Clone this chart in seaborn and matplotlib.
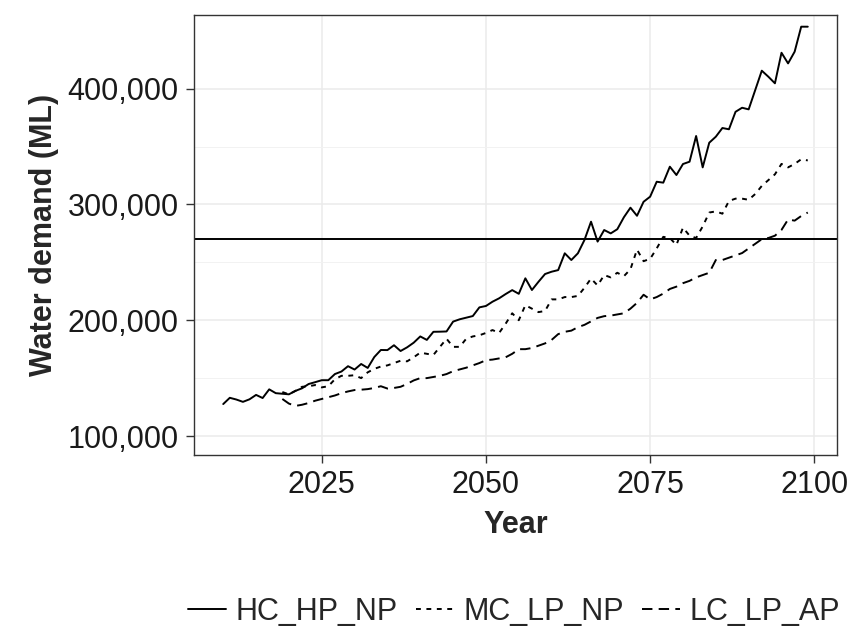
import numpy as np
import pandas as pd
import matplotlib
matplotlib.use("Agg")
import matplotlib.pyplot as plt
import seaborn as sns
from matplotlib.ticker import FuncFormatter

# ---- data (thousand ML) ----
years_hc = list(range(2010, 2100))
hc_hp_np = [127.6, 133, 131.5, 129.5, 131.7, 135.5, 132.8, 140.3, 137, 136.5,
            136, 139, 141.2, 144.9, 146.5, 148.2, 148.2, 153.5, 155.7, 160.3,
            157.4, 162.2, 158.8, 168.2, 174.3, 174.2, 178.4, 173.4, 176.6, 180.6,
            186, 183, 190, 190.1, 190.3, 198.8, 200.8, 202.2, 203.6, 211.1,
            212.3, 216, 218.9, 222.6, 226, 222.8, 236.2, 226.1, 233.2, 239.9,
            241.9, 243.3, 257.8, 252, 257.8, 269.3, 285.1, 267.9, 277.9, 275,
            278.6, 288.9, 297.2, 290.2, 302.3, 306.7, 319.6, 318.8, 332.6, 325.4,
            334.9, 336.9, 359.1, 332, 353.3, 358.5, 366, 364.9, 380, 383.5,
            382.1, 398.8, 415.5, 410.3, 404.6, 431, 421.8, 431.9, 453.5, 453.5]

years_other = list(range(2019, 2100))
mc_lp_np = [138, 136, 139, 142.5, 143, 144, 142, 143, 149, 152,
            152, 152.5, 150, 155, 158, 160, 161, 163, 165, 164.5,
            168, 172, 171, 170, 177, 184, 177, 177, 184, 186,
            187, 189, 191.5, 189, 197, 206, 200, 213, 210, 207,
            208, 218, 218, 220, 220, 221, 228, 236, 230, 239,
            237, 241, 238, 244, 261, 251, 253, 262, 272, 271,
            265, 280, 273, 271, 281, 293, 294, 292, 303, 305,
            305, 304, 309, 316, 321, 326, 335, 332, 335, 339, 338]
lc_lp_ap = [132, 128, 126, 127, 128.5, 130.5, 132, 133.5, 135, 137,
            138.5, 139.7, 140, 140.5, 141.5, 143, 141, 141.5, 142.5, 145,
            148, 150, 150, 151, 152, 153.5, 156, 157.5, 159, 161,
            163, 165.5, 166, 167, 168, 171, 175, 175, 176, 178,
            180, 183, 188, 190, 191, 194, 196, 199, 202, 203.5,
            204, 205, 206, 210, 215, 222, 218, 220, 223, 227,
            229, 232, 234, 237, 239, 241, 252, 252, 254, 256,
            258, 262, 266, 270, 271, 273, 278, 287, 286, 290, 293]

scenarios = ["HC_HP_NP", "MC_LP_NP", "LC_LP_AP"]
threshold = 270000
x_ticks = [2025, 2050, 2075, 2100]
y_ticks = [100000, 200000, 300000, 400000]

df = pd.concat([
    pd.DataFrame({"Year": years_hc, "Demand": np.array(hc_hp_np) * 1000, "Scenario": scenarios[0]}),
    pd.DataFrame({"Year": years_other, "Demand": np.array(mc_lp_np) * 1000, "Scenario": scenarios[1]}),
    pd.DataFrame({"Year": years_other, "Demand": np.array(lc_lp_ap) * 1000, "Scenario": scenarios[2]}),
], ignore_index=True)

# ---- style ----
sns.set_theme(style="whitegrid")
plt.rcParams["font.family"] = ["Liberation Sans", "DejaVu Sans"]
plt.rcParams["lines.scale_dashes"] = False

fig = plt.figure(figsize=(8.53, 6.34), dpi=100)
ax = fig.add_axes([194 / 853, 1 - 455 / 634, (837 - 194) / 853, (455 - 15) / 634])

dash_map = {"HC_HP_NP": "", "MC_LP_NP": (3.5, 4.0), "LC_LP_AP": (7.5, 4.5)}
sns.lineplot(data=df, x="Year", y="Demand", style="Scenario", style_order=scenarios,
             dashes=dash_map, color="black", linewidth=1.4, ax=ax, legend=True)
ax.axhline(threshold, color="black", linewidth=1.4, zorder=1.5)

ax.set_xlim(2005.55, 2103.45)
ax.set_ylim(83600, 463600)
ax.set_xticks(x_ticks)
ax.set_yticks(y_ticks)
ax.set_yticks([150000, 250000, 350000], minor=True)
ax.yaxis.set_major_formatter(FuncFormatter(lambda v, p: f"{int(v):,}"))

ax.set_facecolor("white")
ax.grid(which="major", color="#EBEBEB", linewidth=1.1)
ax.grid(which="minor", axis="y", color="#F2F2F2", linewidth=0.7)
ax.grid(which="minor", axis="x", visible=False)
ax.set_axisbelow(True)
for s in ax.spines.values():
    s.set_color("#333333")
    s.set_linewidth(1.0)

ax.tick_params(axis="both", which="major", direction="out", length=6, width=1.0,
               color="#333333", labelsize=22, labelcolor="#1a1a1a", pad=5,
               bottom=True, left=True)
ax.tick_params(axis="both", which="minor", length=0)

ax.set_xlabel("Year", fontsize=22, fontweight="bold", labelpad=7)
ax.set_ylabel("Water demand (ML)", fontsize=22, fontweight="bold", labelpad=6)

handles, labels = ax.get_legend_handles_labels()
ax.get_legend().remove()
fig.legend(handles, labels, loc="center left", bbox_to_anchor=(188 / 853, 1 - 612 / 634),
           ncol=3, frameon=False, fontsize=22, handlelength=1.25, handletextpad=0.3,
           columnspacing=0.6, borderaxespad=0, borderpad=0)

fig.savefig("out.png", dpi=100, facecolor="white")
